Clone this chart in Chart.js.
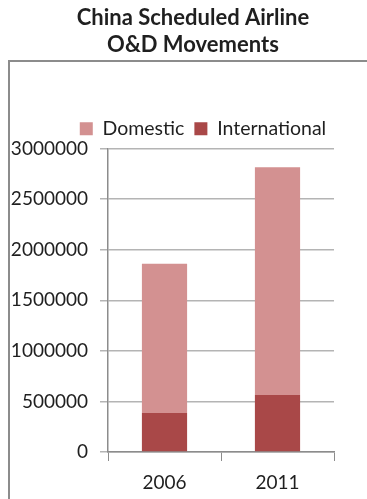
<!DOCTYPE html>
<html>
<head>
<meta charset="utf-8">
<script src="https://cdn.jsdelivr.net/npm/chart.js@4/dist/chart.umd.min.js"></script>
<style>
  html, body { margin: 0; padding: 0; background: #fff; }
  #wrap { position: relative; width: 367px; height: 499px; overflow: hidden; }
  #frame {
    position: absolute; left: 8px; top: 60px; width: 400px; height: 500px;
    border-left: 2px solid #8c8c8c; border-top: 2px solid #8c8c8c;
  }
  canvas { position: absolute; left: 0; top: 0; }
</style>
</head>
<body>
<div id="wrap">
  <div id="frame"></div>
  <canvas id="chart" width="367" height="499"></canvas>
</div>
<script>
const years = ['2006', '2011'];
const domestic = [1475000, 2252000];
const international = [385000, 563000];
const yTicks = [0, 500000, 1000000, 1500000, 2000000, 2500000, 3000000];

const FONT = 'Lato, "Open Sans", sans-serif';

// title and legend sit right of the plot's centre line
const headerShift = {
  id: 'headerShift',
  afterLayout(chart) {
    chart.titleBlock.left += 26;
    chart.titleBlock.right += 26;
    chart.legend.left += 36;
    chart.legend.right += 36;
  }
};

const ctx = document.getElementById('chart').getContext('2d');

new Chart(ctx, {
  type: 'bar',
  data: {
    labels: years,
    datasets: [
      {
        label: 'International',
        data: international,
        backgroundColor: '#a94848',
        borderWidth: 0
      },
      {
        label: 'Domestic',
        data: domestic,
        backgroundColor: '#d39191',
        borderWidth: 0
      }
    ]
  },
  plugins: [headerShift],
  options: {
    responsive: false,
    animation: false,
    layout: { padding: { left: 0, right: 33, top: 0, bottom: 0 } },
    datasets: { bar: { categoryPercentage: 1, barPercentage: 0.4 } },
    plugins: {
      title: {
        display: true,
        text: ['China Scheduled Airline', 'O&D Movements'],
        color: '#1f1f1f',
        font: { family: FONT, size: 22, weight: 'bold', lineHeight: 1.25 },
        padding: { top: 4, bottom: 50 }
      },
      legend: {
        reverse: true,
        labels: {
          boxWidth: 13,
          boxHeight: 13,
          padding: 10,
          color: '#1f1f1f',
          font: { family: FONT, size: 19.5 }
        }
      },
      tooltip: { enabled: false }
    },
    scales: {
      x: {
        stacked: true,
        grid: {
          offset: true,
          drawOnChartArea: false,
          tickLength: 9,
          color: '#8c8c8c'
        },
        border: { color: '#8c8c8c', width: 1.5 },
        ticks: {
          color: '#1f1f1f',
          padding: 10,
          font: { family: FONT, size: 19 }
        },
        afterFit: scale => { scale.height = 47; }
      },
      y: {
        stacked: true,
        min: 0,
        max: 3000000,
        afterBuildTicks: scale => {
          scale.ticks = yTicks.map(v => ({ value: v }));
        },
        grid: {
          color: '#b4b4b4',
          lineWidth: 1.5,
          tickLength: 8
        },
        border: { color: '#8c8c8c', width: 1.5 },
        ticks: {
          color: '#1f1f1f',
          padding: 12,
          font: { family: FONT, size: 19 },
          callback: v => String(v)
        },
        afterFit: scale => { scale.width = 108; }
      }
    }
  }
});
</script>
</body>
</html>
